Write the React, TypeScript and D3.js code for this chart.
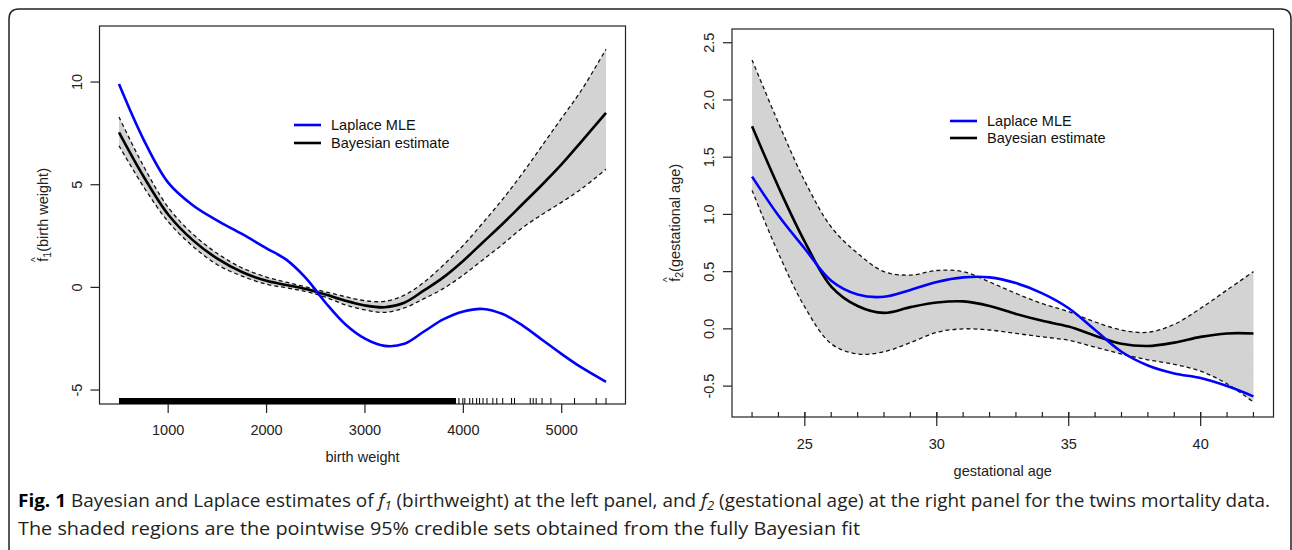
import React from "react";
import * as d3 from "d3";

// ---- left panel: f1(birth weight)
const bwX = [500, 750, 1000, 1250, 1500, 1750, 2000, 2200, 2400, 2600, 2800, 3000, 3200, 3400, 3600, 3800, 4000, 4200, 4400, 4600, 4800, 5000, 5200, 5450];
const bwMle = [9.9, 7.2, 5.1, 4.0, 3.25, 2.6, 1.9, 1.35, 0.45, -0.75, -1.8, -2.5, -2.85, -2.75, -2.15, -1.55, -1.17, -1.05, -1.3, -1.85, -2.55, -3.25, -3.9, -4.6];
const bwBayes = [7.55, 5.4, 3.55, 2.3, 1.4, 0.75, 0.32, 0.12, -0.08, -0.35, -0.65, -0.88, -0.97, -0.75, -0.15, 0.5, 1.3, 2.2, 3.1, 4.05, 5.0, 6.0, 7.1, 8.5];
const bwUpper = [8.3, 5.9, 3.9, 2.6, 1.65, 0.95, 0.5, 0.25, 0.02, -0.22, -0.45, -0.65, -0.68, -0.38, 0.25, 1.1, 2.05, 3.15, 4.3, 5.55, 6.9, 8.25, 9.6, 11.6];
const bwLower = [6.9, 4.9, 3.2, 2.0, 1.1, 0.55, 0.15, -0.02, -0.2, -0.48, -0.85, -1.1, -1.22, -1.0, -0.55, -0.05, 0.6, 1.35, 2.1, 2.9, 3.55, 4.15, 4.8, 5.75];
// observed birth weights (rug): solid stretch + sparse heavy babies
const rugDense = [500, 3925];
const rugSparse = [3955, 3995, 4015, 4065, 4095, 4135, 4165, 4200, 4240, 4300, 4340, 4400, 4490, 4520, 4680, 4710, 4740, 4800, 4890, 5130, 5350, 5450];
const bwTicksX = [1000, 2000, 3000, 4000, 5000];
const bwTicksY = [-5, 0, 5, 10];

// ---- right panel: f2(gestational age)
const gaX = [23, 24, 25, 26, 27, 28, 29, 30, 31, 32, 33, 34, 35, 36, 37, 38, 39, 40, 41, 42];
const gaMle = [1.33, 0.99, 0.7, 0.42, 0.3, 0.28, 0.34, 0.41, 0.45, 0.45, 0.4, 0.31, 0.18, -0.01, -0.2, -0.32, -0.39, -0.43, -0.5, -0.59];
const gaBayes = [1.77, 1.24, 0.76, 0.37, 0.2, 0.14, 0.19, 0.23, 0.24, 0.2, 0.13, 0.07, 0.02, -0.06, -0.13, -0.15, -0.12, -0.07, -0.04, -0.04];
const gaUpper = [2.35, 1.8, 1.29, 0.89, 0.66, 0.5, 0.47, 0.51, 0.5, 0.41, 0.31, 0.22, 0.15, 0.06, -0.01, -0.03, 0.04, 0.18, 0.34, 0.5];
const gaLower = [1.21, 0.66, 0.19, -0.13, -0.22, -0.2, -0.12, -0.03, 0.0, -0.01, -0.04, -0.07, -0.1, -0.16, -0.22, -0.27, -0.31, -0.37, -0.48, -0.64];
const gaTicksX = [25, 30, 35, 40];
const gaMinorX = [23, 24, 25, 26, 27, 28, 29, 30, 31, 32, 33, 34, 35, 36, 37, 38, 39, 40, 41, 42];
const gaTicksY = [-0.5, 0.0, 0.5, 1.0, 1.5, 2.0, 2.5];

const legendLabels = ["Laplace MLE", "Bayesian estimate"];

const FONT = "'Liberation Sans', Arial, Helvetica, sans-serif";
const AX = "#222";

function Panel({ xs, mle, bayes, upper, lower, x, y, ticksY, fmtY, xTitle, yTitle, sub, legend, children }) {
  const pts = (ys) => xs.map((v, i) => [v, ys[i]]);
  const line = d3.line().x((d) => x(d[0])).y((d) => y(d[1])).curve(d3.curveCatmullRom);
  const band = d3
    .area()
    .x((d, i) => x(xs[i]))
    .y0((d, i) => y(lower[i]))
    .y1((d, i) => y(upper[i]))
    .curve(d3.curveCatmullRom);
  const [x0, x1] = x.range();
  const [yb, yt] = y.range();
  const yc = (yb + yt) / 2;
  return (
    <g>
      <path d={band(xs)} fill="#d3d3d3" />
      <path d={line(pts(upper))} fill="none" stroke="#111" strokeWidth={1.3} strokeDasharray="4,3" />
      <path d={line(pts(lower))} fill="none" stroke="#111" strokeWidth={1.3} strokeDasharray="4,3" />
      <path d={line(pts(bayes))} fill="none" stroke="#000" strokeWidth={2.6} />
      <path d={line(pts(mle))} fill="none" stroke="#0000ff" strokeWidth={2.6} />
      <rect x={x0} y={yt} width={x1 - x0} height={yb - yt} fill="none" stroke={AX} strokeWidth={1.2} />
      {ticksY.map((t) => (
        <g key={"y" + t}>
          <line x1={x0 - 9} x2={x0} y1={y(t)} y2={y(t)} stroke={AX} strokeWidth={1.2} />
          <text
            transform={`translate(${x0 - 18},${y(t)}) rotate(-90)`}
            textAnchor="middle"
            fontSize={14.5}
            fill={AX}
            fontFamily={FONT}
          >
            {fmtY(t)}
          </text>
        </g>
      ))}
      {children}
      <text x={(x0 + x1) / 2} y={xTitle.y} textAnchor="middle" fontSize={14.5} fill={AX} fontFamily={FONT}>
        {xTitle.text}
      </text>
      <text
        transform={`translate(${x0 - 52},${yc}) rotate(-90)`}
        textAnchor="middle"
        fontSize={14.5}
        fill={AX}
        fontFamily={FONT}
      >
        <tspan>f</tspan>
        <tspan fontSize={10} dx={-4.3} dy={-9}>^</tspan>
        <tspan fontSize={10.5} dx={-0.4} dy={12}>{sub}</tspan>
        <tspan dy={-3}>{yTitle}</tspan>
      </text>
      {legendLabels.map((lab, i) => (
        <g key={lab}>
          <line
            x1={legend.x}
            x2={legend.x + 27}
            y1={legend.y + i * legend.dy}
            y2={legend.y + i * legend.dy}
            stroke={i === 0 ? "#0000ff" : "#000"}
            strokeWidth={2.6}
          />
          <text x={legend.x + 37} y={legend.y + i * legend.dy + 5} fontSize={14.5} fill="#111" fontFamily={FONT}>
            {lab}
          </text>
        </g>
      ))}
    </g>
  );
}

export default function App() {
  // R style scales: 4% padding around the data range
  const xL = d3.scaleLinear().domain([302, 5648]).range([99.5, 625.5]);
  const yL = d3.scaleLinear().domain([-5.68, 12.73]).range([404, 26]);
  const xR = d3.scaleLinear().domain([22.24, 42.76]).range([732, 1273.5]);
  const yR = d3.scaleLinear().domain([-0.77, 2.62]).range([417, 29]);

  return (
    <svg width={1292} height={550} style={{ position: "absolute", left: 0, top: 0, background: "#fff" }}>
      <path d="M9,560 L9,19 Q9,9 19,9 L1281,9 Q1291,9 1291,19 L1291,560" fill="none" stroke="#222" strokeWidth={1.5} />

      <Panel
        xs={bwX}
        mle={bwMle}
        bayes={bwBayes}
        upper={bwUpper}
        lower={bwLower}
        x={xL}
        y={yL}
        ticksY={bwTicksY}
        fmtY={(t) => String(t)}
        xTitle={{ text: "birth weight", y: 462 }}
        yTitle="(birth weight)"
        sub="1"
        legend={{ x: 294, y: 125, dy: 18 }}
      >
        <rect x={xL(rugDense[0])} y={398} width={xL(rugDense[1]) - xL(rugDense[0])} height={6} fill="#000" />
        {rugSparse.map((v) => (
          <line key={v} x1={xL(v)} x2={xL(v)} y1={398} y2={404} stroke="#000" strokeWidth={1} />
        ))}
        {bwTicksX.map((t) => (
          <g key={t}>
            <line x1={xL(t)} x2={xL(t)} y1={404} y2={413} stroke={AX} strokeWidth={1.2} />
            <text x={xL(t)} y={435} textAnchor="middle" fontSize={14.5} fill={AX} fontFamily={FONT}>
              {t}
            </text>
          </g>
        ))}
      </Panel>

      <Panel
        xs={gaX}
        mle={gaMle}
        bayes={gaBayes}
        upper={gaUpper}
        lower={gaLower}
        x={xR}
        y={yR}
        ticksY={gaTicksY}
        fmtY={(t) => d3.format(".1f")(t).replace("\u2212", "-")}
        xTitle={{ text: "gestational age", y: 476 }}
        yTitle="(gestational age)"
        sub="2"
        legend={{ x: 950, y: 121, dy: 17 }}
      >
        {gaMinorX.map((t) => (
          <line key={"m" + t} x1={xR(t)} x2={xR(t)} y1={412} y2={417} stroke={AX} strokeWidth={1.2} />
        ))}
        {gaTicksX.map((t) => (
          <g key={t}>
            <line x1={xR(t)} x2={xR(t)} y1={412} y2={426} stroke={AX} strokeWidth={1.2} />
            <text x={xR(t)} y={449} textAnchor="middle" fontSize={14.5} fill={AX} fontFamily={FONT}>
              {t}
            </text>
          </g>
        ))}
      </Panel>

      <g fontFamily="'Open Sans', 'Noto Sans', sans-serif" fontSize={17.5} fill="#231f20">
        <text x={18} y={507} textLength={1252} lengthAdjust="spacingAndGlyphs">
          <tspan fontWeight="bold" fill="#000">Fig. 1</tspan>
          <tspan> Bayesian and Laplace estimates of </tspan>
          <tspan fontStyle="italic">f</tspan>
          <tspan fontStyle="italic" fontSize={12} dy={3}>1</tspan>
          <tspan dy={-3}> (birthweight) at the left panel, and </tspan>
          <tspan fontStyle="italic">f</tspan>
          <tspan fontStyle="italic" fontSize={12} dy={3}>2</tspan>
          <tspan dy={-3}> (gestational age) at the right panel for the twins mortality data.</tspan>
        </text>
        <text x={18} y={535} textLength={842} lengthAdjust="spacingAndGlyphs">
          The shaded regions are the pointwise 95% credible sets obtained from the fully Bayesian fit
        </text>
      </g>
    </svg>
  );
}
